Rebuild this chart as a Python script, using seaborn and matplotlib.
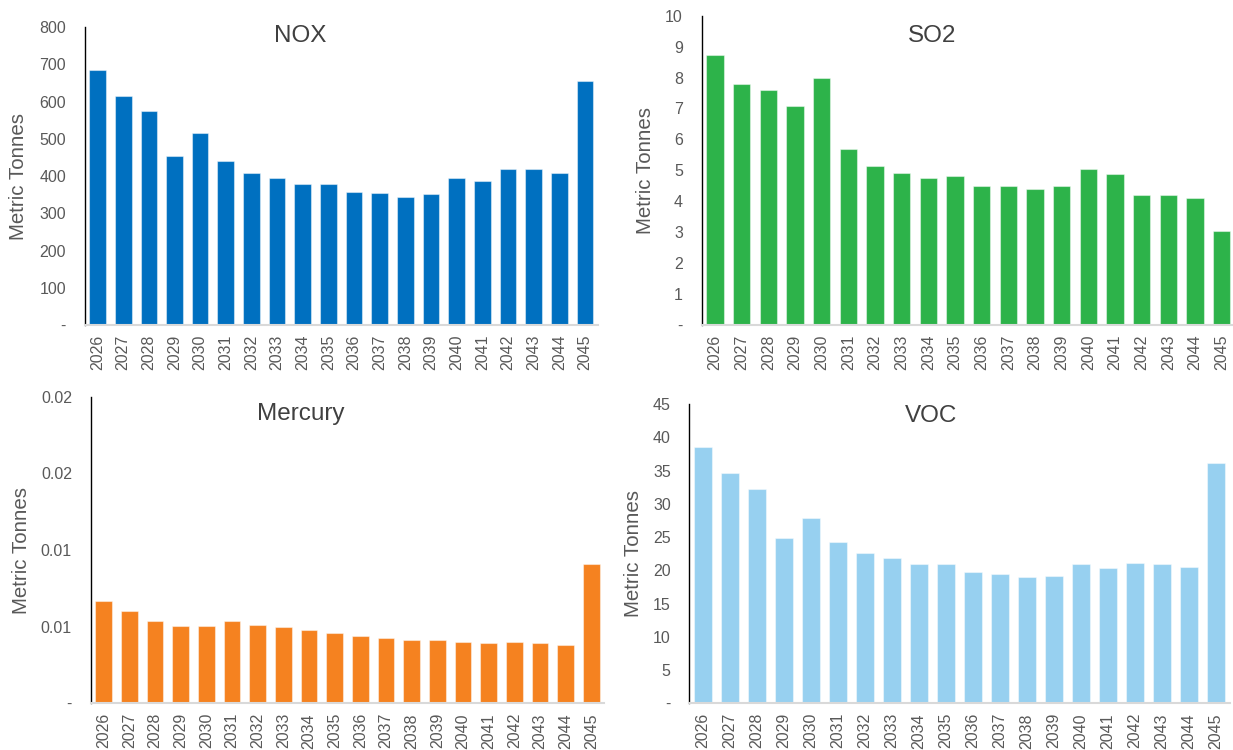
import matplotlib
matplotlib.use("Agg")
import matplotlib.pyplot as plt
import seaborn as sns

# Emission projections by year (metric tonnes)
years = [str(y) for y in range(2026, 2046)]

nox = [685, 615, 576, 453, 515, 441, 409, 394, 380, 379,
       358, 355, 345, 351, 396, 386, 419, 418, 409, 655]
so2 = [8.74, 7.78, 7.59, 7.09, 7.98, 5.69, 5.15, 4.90, 4.74, 4.82,
       4.50, 4.48, 4.40, 4.48, 5.03, 4.88, 4.19, 4.19, 4.09, 3.04]
mercury = [0.00667, 0.00605, 0.00538, 0.00507, 0.00507, 0.00536, 0.00511,
           0.00498, 0.00477, 0.00459, 0.00439, 0.00428, 0.00413, 0.00411,
           0.00402, 0.00393, 0.00398, 0.00393, 0.00383, 0.00911]
voc = [38.6, 34.7, 32.2, 24.8, 27.9, 24.3, 22.6, 21.8, 21.0, 20.9,
       19.7, 19.5, 19.0, 19.1, 20.9, 20.3, 21.1, 21.0, 20.5, 36.1]

nox_ticks = [0, 100, 200, 300, 400, 500, 600, 700, 800]
nox_labels = ["-", "100", "200", "300", "400", "500", "600", "700", "800"]
so2_ticks = [0, 1, 2, 3, 4, 5, 6, 7, 8, 9, 10]
so2_labels = ["-", "1", "2", "3", "4", "5", "6", "7", "8", "9", "10"]
hg_ticks = [0, 0.005, 0.01, 0.015, 0.02]
hg_labels = ["-", "0.01", "0.01", "0.02", "0.02"]
voc_ticks = [0, 5, 10, 15, 20, 25, 30, 35, 40, 45]
voc_labels = ["-", "5", "10", "15", "20", "25", "30", "35", "40", "45"]

sns.set_style("white")
plt.rcParams["font.family"] = ["Liberation Sans", "DejaVu Sans"]

TEXT = "#595959"
TITLE = "#404040"

fig = plt.figure(figsize=(12.33, 7.5), dpi=100)

panels = [
    # title, values, colour, ticks, labels, axes rect, ylabel x, title pos
    ("NOX", nox, "#0070C0", nox_ticks, nox_labels,
     [0.0687, 0.5667, 0.4161, 0.397], -0.110, (0.42, 0.952)),
    ("SO2", so2, "#2DB34A", so2_ticks, so2_labels,
     [0.5691, 0.5667, 0.4326, 0.4124], -0.088, (0.432, 0.915)),
    ("Mercury", mercury, "#F58220", hg_ticks, hg_labels,
     [0.0736, 0.0622, 0.4165, 0.4088], -0.116, (0.409, 0.924)),
    ("VOC", voc, "#97D0F0", voc_ticks, voc_labels,
     [0.5592, 0.0622, 0.4380, 0.3990], -0.086, (0.447, 0.941)),
]

for title, vals, color, ticks, labels, rect, ylab_x, tpos in panels:
    ax = fig.add_axes(rect)
    sns.barplot(x=years, y=vals, color=color, saturation=1, width=0.65,
                edgecolor=(1, 1, 1, 0.45), linewidth=0.8, ax=ax)
    ax.set_xlim(-0.5, len(years) - 0.5)
    ax.set_ylim(ticks[0], ticks[-1])
    ax.set_yticks(ticks)
    ax.set_yticklabels(labels)
    ax.tick_params(axis="y", length=0, pad=13.5, labelsize=11.5, labelcolor=TEXT)
    ax.tick_params(axis="x", length=0, pad=7, labelsize=11.5, labelcolor=TEXT,
                   labelrotation=90)
    for s in ("top", "right"):
        ax.spines[s].set_visible(False)
    ax.spines["left"].set_color("black")
    ax.spines["left"].set_linewidth(1.0)
    ax.spines["bottom"].set_color("#D9D9D9")
    ax.spines["bottom"].set_linewidth(1.5)
    ax.set_xlabel("")
    ax.set_ylabel("Metric Tonnes", fontsize=14.8, color=TEXT)
    ax.yaxis.set_label_coords(ylab_x, 0.5)
    ax.text(tpos[0], tpos[1], title, transform=ax.transAxes, ha="center",
            va="baseline", fontsize=17.5, color=TITLE)

fig.savefig("out.png", dpi=100)
